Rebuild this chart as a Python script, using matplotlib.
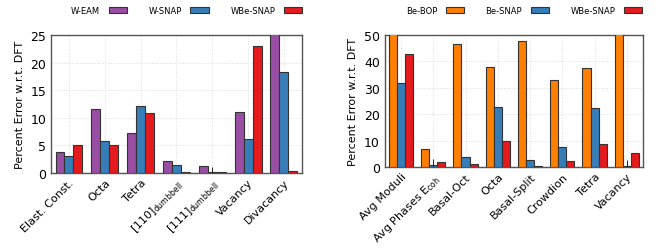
import numpy as np
import matplotlib
matplotlib.use("Agg")
import matplotlib.pyplot as plt

# left panel: W defects
w_labels = ["Elast. Const.", "Octa", "Tetra", r"[110]$_{\mathregular{dumbbell}}$",
            r"[111]$_{\mathregular{dumbbell}}$", "Vacancy", "Divacancy"]
w_eam = [3.8, 11.6, 7.3, 2.2, 1.2, 11.1, 26.0]
w_snap = [3.0, 5.8, 12.2, 1.4, 0.1, 6.1, 18.2]
w_wbe = [5.0, 5.0, 10.8, 0.1, 0.2, 22.9, 0.4]
w_snap_err = [0, 0, 0, 0, 1.0, 0, 0]

# right panel: Be defects
be_labels = ["Avg Moduli", r"Avg Phases E$_{\mathregular{coh}}$", "Basal-Oct", "Octa",
             "Basal-Split", "Crowdion", "Tetra", "Vacancy"]
be_bop = [52.0, 6.7, 46.4, 37.7, 47.8, 33.1, 37.4, 52.0]
be_snap = [31.6, 0.7, 3.7, 22.6, 2.6, 7.4, 22.4, 0.3]
be_wbe = [42.7, 2.0, 1.0, 9.7, 0.3, 2.1, 8.6, 5.2]
be_snap_err = [0, 2.2, 0, 0, 0, 0, 0, 2.2]

purple = "#984ea3"
blue = "#377eb8"
red = "#e41a1c"
orange = "#ff7f00"
edge = "#333333"


def draw(ax, labels, series, names, colors, errs, ymax, yticks, leg_x):
    x = np.arange(len(labels))
    w = 0.25
    for i, (vals, name, col) in enumerate(zip(series, names, colors)):
        ax.bar(x + (i - 1) * w, vals, w, color=col, edgecolor=edge,
               linewidth=0.8, label=name, zorder=3)
    e = np.array(errs, dtype=float)
    m = e > 0
    ax.errorbar(x[m], np.array(series[1])[m], yerr=e[m], fmt="none",
                ecolor="black", elinewidth=0.6, capsize=0, zorder=4)
    ax.set_xlim(-0.5, len(labels) - 0.5)
    ax.set_ylim(0, ymax)
    ax.set_yticks(yticks)
    ax.set_xticks(x)
    ax.set_xticklabels(labels, rotation=45, ha="right", rotation_mode="anchor",
                       fontsize=8)
    ax.tick_params(axis="y", labelsize=9, direction="in", length=0)
    ax.tick_params(axis="x", length=0, pad=3)
    ax.grid(True, color="#dddddd", linestyle=":", linewidth=0.7, zorder=0)
    for s in ax.spines.values():
        s.set_color("#555555")
        s.set_linewidth(1.0)
    ax.set_ylabel("Percent Error w.r.t. DFT", fontsize=8)
    ax.legend(loc="center", bbox_to_anchor=(leg_x, 0.955),
              bbox_transform=ax.figure.transFigure, ncol=3,
              frameon=False, fontsize=6, markerfirst=False,
              handlelength=2.2, handleheight=0.6, columnspacing=2.6,
              handletextpad=1.0)


fig = plt.figure(figsize=(6.67, 2.51), dpi=100)
ax1 = fig.add_axes([0.0765, 0.307, 0.376, 0.55])
ax2 = fig.add_axes([0.577, 0.331, 0.387, 0.526])

draw(ax1, w_labels, [w_eam, w_snap, w_wbe], ["W-EAM", "W-SNAP", "WBe-SNAP"],
     [purple, blue, red], w_snap_err, 25, [0, 5, 10, 15, 20, 25], 186.5 / 667)
draw(ax2, be_labels, [be_bop, be_snap, be_wbe], ["Be-BOP", "Be-SNAP", "WBe-SNAP"],
     [orange, blue, red], be_snap_err, 50, [0, 10, 20, 30, 40, 50], 524 / 667)

fig.savefig("out.png", dpi=100)
